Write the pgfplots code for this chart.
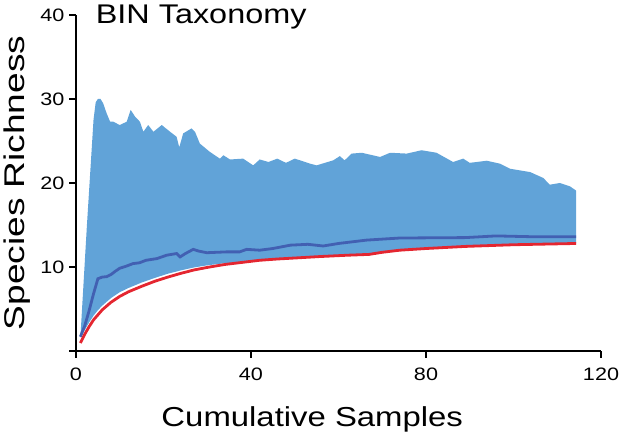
\documentclass[border=0pt]{standalone}
\usepackage{fontspec}
\setmainfont{Liberation Sans}[FakeStretch=1.2]
\newfontfamily\ylabfont{Liberation Sans}[FakeStretch=1.3]
\usepackage{pgfplots}
\pgfplotsset{compat=1.18}
\usepgfplotslibrary{fillbetween}
\definecolor{bandblue}{RGB}{97,163,216}
\definecolor{lineblue}{RGB}{66,96,178}
\definecolor{linered}{RGB}{228,38,48}
\begin{document}
\begin{tikzpicture}
\begin{axis}[
  scale only axis, width=525pt, height=336pt,
  xmin=0, xmax=120, ymin=0, ymax=40,
  axis lines*=left,
  axis line style={line width=1.3pt, black},
  xtick={0,40,80,120}, xticklabels={0,40,80,120},
  ytick={0,10,20,30,40}, yticklabels={,10,20,30,40},
  tick align=outside, major tick length=7pt,
  tick style={line width=1.3pt, black},
  ticklabel style={font=\fontsize{18}{20}\selectfont},
  xticklabel style={yshift=-6pt},
  yticklabel style={xshift=-1pt},
  /pgf/number format/assume math mode=true,
  xlabel={Cumulative Samples},
  xlabel style={at={(axis description cs:0.45,-0.226)}, anchor=base, font=\fontsize{27.4}{30}\selectfont},
  ylabel={Species Richness},
  ylabel style={at={(axis description cs:-0.112,0.5)}, anchor=center, rotate=0, font=\ylabfont\fontsize{28.5}{30}\selectfont},
  clip=false,
]
\addplot[name path=U, draw=none] coordinates {
(1,1.6) (2.5,15) (4,27.5) (4.5,29.6) (5,30) (5.6,30) (6.2,29.5) (7,28.3) (7.8,27.3) (8.5,27.3)
(10,26.9) (11.6,27.3) (12.5,28.7) (13.5,27.9) (14.6,27.3) (15.4,26.1) (16.5,26.9)
(17.7,26.1) (19.6,26.9) (21.5,26.1) (23,25.5) (23.6,24.25) (24.5,25.9) (26.4,26.5)
(27.2,26.1) (28.3,24.7) (30.6,23.7) (32.9,22.9) (33.7,23.3) (35.2,22.8) (38.2,22.9)
(40.5,22.1) (42,22.8) (44,22.5) (46,22.9) (48,22.4) (50,22.9) (51.2,22.7) (53.5,22.3)
(55,22.1) (58.8,22.7) (60.3,23.2) (61.4,22.7) (63,23.5) (65.3,23.6) (69.5,23.1)
(71.8,23.6) (75.6,23.5) (79,23.9) (82.4,23.6) (86.2,22.5) (88.5,22.9) (90,22.4)
(93.9,22.65) (96.9,22.3) (99.2,21.7) (103.8,21.3) (106.8,20.6) (108.3,19.8)
(110.6,20.0) (112.9,19.6) (114.3,19.1)
};
\addplot[name path=L, draw=none] coordinates {
(1,1.6) (2,2.5) (3,3.4) (4,4.2) (5,4.85) (6,5.4) (8,6.3) (10,7.0) (12,7.5) (15,8.15)
(18,8.7) (21,9.2) (24,9.6) (27,9.95) (30,10.2) (34,10.45) (38,10.6) (42,10.8)
(46,10.95) (51,11.1) (56,11.25) (62,11.4) (68,11.5) (70,11.7) (74,12.0) (80,12.2)
(89,12.45) (100,12.65) (114.3,12.8)
};
\addplot[bandblue, draw=none] fill between[of=U and L];
\addplot[lineblue, line width=2.8pt] coordinates {
(1,1.7) (2,3.0) (3,4.8) (4,6.8) (5,8.6) (6,8.8) (7,8.85) (8,9.1) (9,9.5) (10,9.85)
(11.5,10.1) (13,10.4) (14.5,10.5) (16,10.8) (18.5,11.0) (20.7,11.4) (23,11.6)
(23.8,11.2) (25,11.6) (26.8,12.1) (28,11.9) (29.9,11.7) (34.4,11.8) (37.4,11.8)
(39,12.1) (42,12.0) (45,12.2) (49,12.6) (53,12.7) (56.5,12.5) (60,12.8) (66.4,13.2)
(74,13.45) (89,13.5) (96,13.7) (104.5,13.6) (114.3,13.6)
};
\addplot[linered, line width=2.8pt] coordinates {
(1,0.95) (2,2.0) (3,2.9) (4,3.7) (5,4.3) (6,4.9) (8,5.8) (10,6.5) (12,7.05) (15,7.7)
(18,8.3) (21,8.8) (24,9.25) (27,9.65) (30,9.95) (34,10.3) (38,10.55) (42,10.8)
(46,10.95) (51,11.1) (56,11.25) (62,11.4) (67,11.5) (70,11.75) (74,12.0) (80,12.2)
(89,12.45) (100,12.65) (114.3,12.8)
};
\node[anchor=base west, font=\fontsize{27}{30}\selectfont] at (rel axis cs:0.031,0.976) {BIN Taxonomy};
\end{axis}
\pgfresetboundingbox
\path[use as bounding box] (-76pt,-84pt) rectangle (544pt,351pt);
\end{tikzpicture}
\end{document}
